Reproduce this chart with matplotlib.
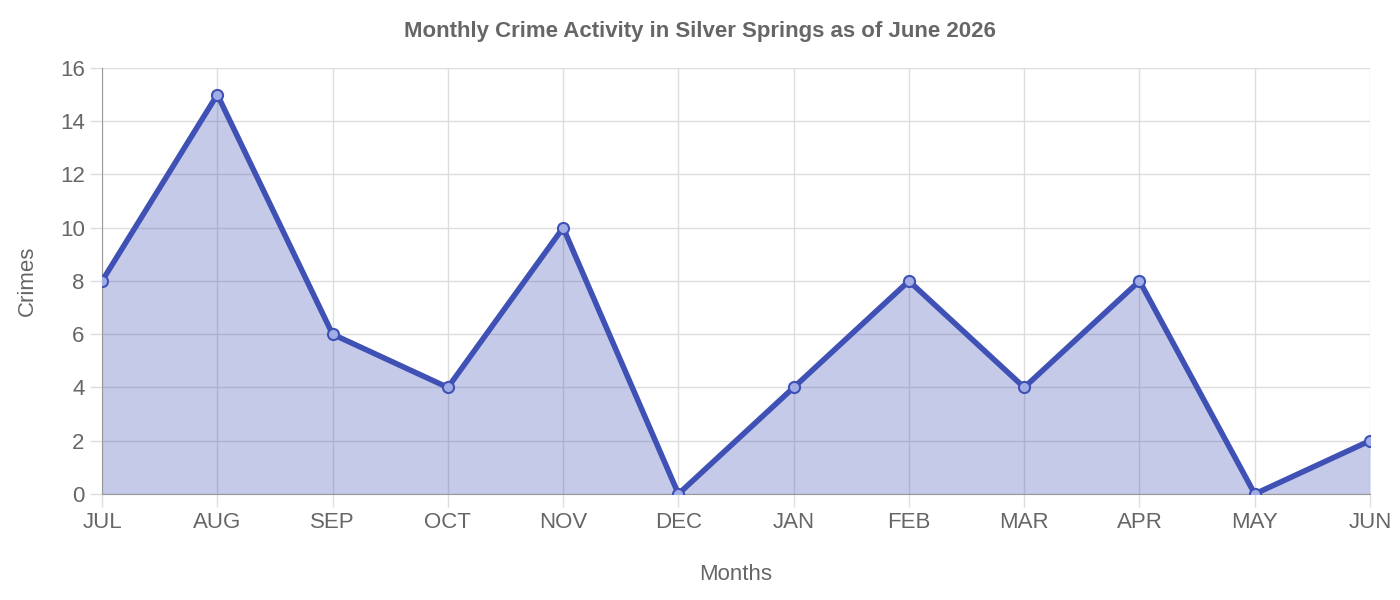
import matplotlib
matplotlib.use("Agg")
import matplotlib.pyplot as plt

months = ["JUL","AUG","SEP","OCT","NOV","DEC","JAN","FEB","MAR","APR","MAY","JUN"]
crimes = [8, 15, 6, 4, 10, 0, 4, 8, 4, 8, 0, 2]

plt.rcParams['font.family'] = ['Liberation Sans', 'DejaVu Sans']
fig = plt.figure(figsize=(14, 6), dpi=100)
ax = fig.add_axes([0.0729, 0.1767, 0.9057, 0.71])
x = list(range(len(months)))
col = "#3F51B5"
ax.fill_between(x, crimes, 0, color=col, alpha=0.3, linewidth=0)
ax.plot(x, crimes, color=col, linewidth=4, marker='o', markersize=8,
        markerfacecolor=(0.63, 0.68, 0.9), markeredgecolor=col, markeredgewidth=1.5, zorder=3)
ax.set_xlim(0, 11)
ax.set_ylim(0, 16)
ax.set_yticks(range(0, 17, 2))
ax.set_xticks(x)
ax.set_xticklabels(months)
ax.grid(True, color="#dddddd", linewidth=1)
ax.set_axisbelow(True)
for s in ["top", "right"]:
    ax.spines[s].set_visible(False)
ax.spines["left"].set_color("#999999")
ax.spines["bottom"].set_color("#999999")
ax.tick_params(axis='both', colors="#dddddd", labelcolor="#666666", labelsize=16, length=9, width=1)
ax.tick_params(axis='x', pad=4)
ax.set_xlabel("Months", fontsize=16, color="#666666", labelpad=22)
ax.set_ylabel("Crimes", fontsize=16, color="#666666", labelpad=16)
fig.suptitle("Monthly Crime Activity in Silver Springs as of June 2026", x=0.5, y=0.965,
             fontsize=16, fontweight='bold', color="#666666")
fig.savefig("out.png", dpi=100)
